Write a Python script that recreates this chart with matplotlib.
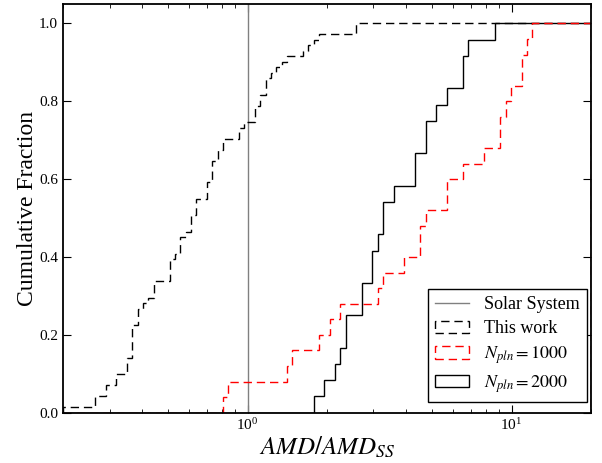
import numpy as np
import matplotlib
matplotlib.use('Agg')
import matplotlib.pyplot as plt
from matplotlib.ticker import FormatStrFormatter, MultipleLocator

plt.rcParams['font.family'] = 'serif'
plt.rcParams['font.serif'] = ['Liberation Serif', 'DejaVu Serif']
plt.rcParams['mathtext.fontset'] = 'stix'

# sample values and how many systems fall at each value
this_work_vals = [0.205, 0.271, 0.297, 0.326, 0.358, 0.375, 0.393, 0.411, 0.431,
                  0.451, 0.519, 0.544, 0.570, 0.597, 0.625, 0.655, 0.719, 0.753,
                  0.789, 0.826, 0.950, 0.995, 1.093, 1.145, 1.199, 1.256, 1.316,
                  1.379, 1.444, 1.661, 1.740, 1.823, 1.909, 2.644]
this_work_cnt = [1, 2, 2, 2, 3, 6, 3, 1, 1,
                 3, 4, 1, 3, 1, 3, 3, 3, 4,
                 2, 2, 2, 1, 3, 2, 3, 1, 1,
                 1, 1, 1, 1, 1, 1, 2]

n1000_vals = [0.826, 0.866, 1.444, 1.513, 1.909, 2.095, 2.299, 3.185, 3.336,
              4.019, 4.620, 4.840, 5.830, 6.702, 8.075, 9.283, 9.726, 10.19,
              11.18, 11.71, 12.27]
n1000_cnt = [1, 1, 1, 1, 1, 1, 1, 1, 1,
             1, 2, 1, 2, 1, 1, 2, 1, 1,
             2, 1, 1]

n2000_vals = [1.822, 2.000, 2.195, 2.299, 2.409, 2.770, 3.040, 3.185, 3.336,
              3.661, 4.410, 4.840, 5.312, 5.830, 6.702, 7.021, 8.862]
n2000_cnt = [1, 1, 1, 1, 2, 2, 2, 1, 2,
             1, 2, 2, 1, 1, 2, 1, 1]

solar_system = 1.0
bins = np.logspace(np.log10(0.2), np.log10(20), 100)


def cum_hist(ax, vals, cnt, **kw):
    data = np.repeat(vals, cnt)
    w = np.ones(len(data)) / len(data)
    return ax.hist(data, bins=bins, weights=w, cumulative=True,
                   histtype='step', **kw)[2][0]


fig = plt.figure(figsize=(6.02, 4.63), dpi=100)
ax = fig.add_axes([0.1047, 0.1086, 0.877, 0.8828])

l_ss = ax.axvline(solar_system, color='0.5', lw=1.0, label='Solar System')
p_tw = cum_hist(ax, this_work_vals, this_work_cnt, color='k', lw=1.0,
                linestyle=(0, (6, 3.5)), label='This work')
p_2k = cum_hist(ax, n2000_vals, n2000_cnt, color='k', lw=1.0,
                label=r'$N_{pln} = 2000$')
p_1k = cum_hist(ax, n1000_vals, n1000_cnt, color='r', lw=1.0,
                linestyle=(0, (6, 3.5)), label=r'$N_{pln} = 1000$')

ax.set_xscale('log')
ax.set_xlim(0.2, 20)
ax.set_ylim(0, 1.05)
ax.yaxis.set_major_locator(MultipleLocator(0.2))
ax.yaxis.set_major_formatter(FormatStrFormatter('%.1f'))
ax.tick_params(which='both', direction='in', top=True, right=True, labelsize=11)
ax.tick_params(which='major', length=5.5)
ax.tick_params(which='minor', length=3)
for s in ax.spines.values():
    s.set_linewidth(1.3)

ax.set_xlabel(r'$AMD/AMD_{SS}$', fontsize=18, labelpad=1)
ax.set_ylabel('Cumulative Fraction', fontsize=17, labelpad=1)

leg = ax.legend([l_ss, p_tw, p_1k, p_2k],
                ['Solar System', 'This work', r'$N_{pln} = 1000$', r'$N_{pln} = 2000$'],
                loc='lower right', bbox_to_anchor=(0.992, 0.026),
                fontsize=13, fancybox=False, framealpha=1,
                edgecolor='k', labelspacing=0.4, handlelength=1.9,
                borderaxespad=0)
leg.get_frame().set_linewidth(1.0)

fig.savefig('out.png', dpi=100)
